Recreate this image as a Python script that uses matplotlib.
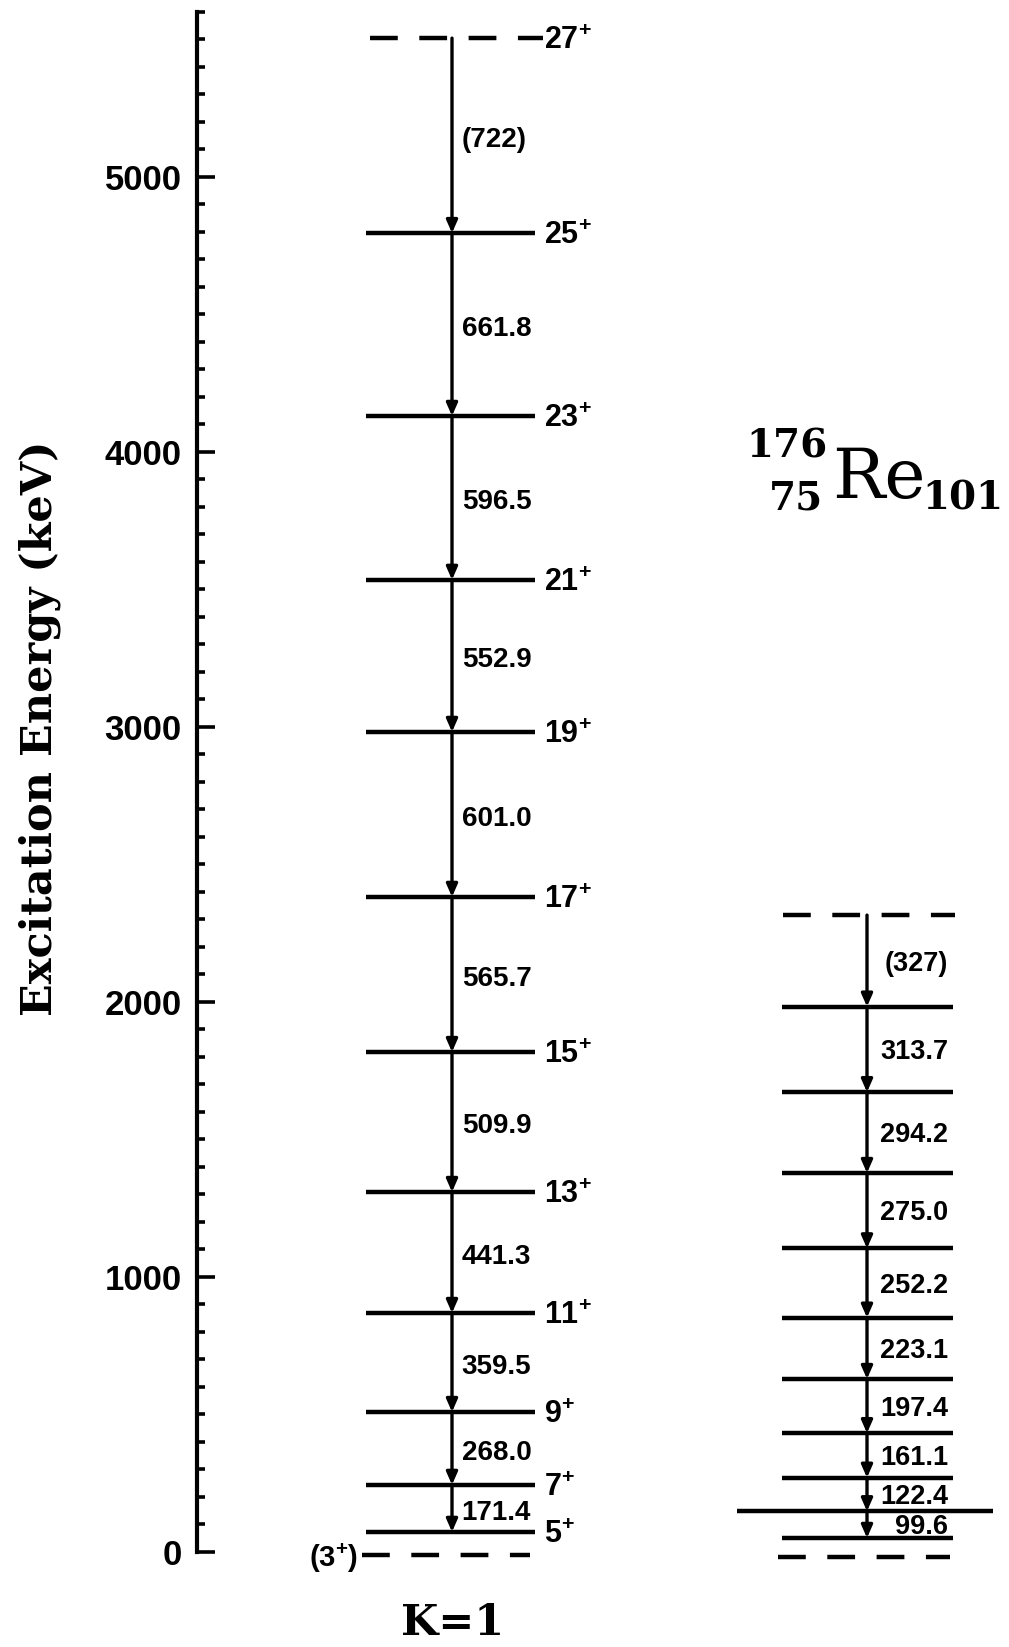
import numpy as np
import matplotlib
matplotlib.use("Agg")
import matplotlib.pyplot as plt

plt.rcParams['lines.scale_dashes'] = False
plt.rcParams['mathtext.fontset'] = 'custom'
plt.rcParams['mathtext.rm'] = 'Liberation Sans:bold'
plt.rcParams['mathtext.bf'] = 'Liberation Sans:bold'

# K=1 band (top level is tentative -> dashed)
k1_spins = ["27", "25", "23", "21", "19", "17", "15", "13", "11", "9", "7", "5"]
k1_levels = [5505, 4796, 4131, 3535, 2982, 2382, 1818, 1309, 869, 509, 244, 73]
k1_gammas = ["(722)", "661.8", "596.5", "552.9", "601.0", "565.7",
             "509.9", "441.3", "359.5", "268.0", "171.4"]
k1_head = -12          # (3+) band head, dashed
k1_head_label = "(3"

# second band of 176Re (top level tentative -> dashed)
b2_levels = [2316, 1983, 1672, 1378, 1104, 852, 629, 432, 270, 148, 51]
b2_gammas = ["(327)", "313.7", "294.2", "275.0", "252.2", "223.1",
             "197.4", "161.1", "122.4", "99.6"]
b2_bottom = -18        # dashed
b2_long_level = 148    # level drawn wider

# energy axis
major_ticks = [0, 1000, 2000, 3000, 4000, 5000]
minor_ticks = list(range(0, 5700, 100))

W, H = 1009, 1647
fig = plt.figure(figsize=(W / 100, H / 100), dpi=100)
ax = fig.add_axes([197 / W, 0, (W - 197) / W, 1])
ax.set_xlim(197, W)
ax.set_ylim(-345.5, 5643.6)

for s in ["top", "right", "bottom"]:
    ax.spines[s].set_visible(False)
ax.spines["left"].set_linewidth(3)
ax.spines["left"].set_bounds(0, 5600)
ax.set_xticks([])
ax.set_yticks(major_ticks)
ax.set_yticks(minor_ticks, minor=True)
ax.tick_params(axis="y", which="major", direction="in", length=13, width=2.6,
               pad=11, labelsize=25)
ax.tick_params(axis="y", which="minor", direction="in", length=6, width=2.6)
for lab in ax.get_yticklabels():
    lab.set_fontfamily("Liberation Sans")
    lab.set_fontweight("bold")

lev_lw = 3.2
vert_lw = 2.4
dash = (0, (20, 15.5))
arrow_style = "-|>,head_length=0.5,head_width=0.22"
head_scale = 15

# ---- K=1 band ----
x1a, x1b, xv1 = 366, 535, 452
ax.plot([370, 543], [k1_levels[0]] * 2, color="k", lw=lev_lw, linestyle=dash,
        dash_capstyle="butt")
for E in k1_levels[1:]:
    ax.plot([x1a, x1b], [E, E], color="k", lw=lev_lw, solid_capstyle="butt")
ax.plot([362, 530], [k1_head] * 2, color="k", lw=lev_lw, linestyle=dash,
        dash_capstyle="butt")

for i, g in enumerate(k1_gammas):
    top, bot = k1_levels[i], k1_levels[i + 1]
    ax.annotate("", xy=(xv1, bot), xytext=(xv1, top),
                arrowprops=dict(arrowstyle=arrow_style, lw=vert_lw, color="k",
                                shrinkA=0, shrinkB=0, mutation_scale=head_scale))
    ax.annotate(g, (xv1, (top + bot) / 2), xytext=(7, -3),
                textcoords="offset points", ha="left", va="center",
                fontsize=20, fontfamily="Liberation Sans", fontweight="bold")

for sp, E in zip(k1_spins, k1_levels):
    ax.annotate(r"$\mathbf{%s}^{\mathbf{+}}$" % sp, (544, E), xytext=(0, -2),
                textcoords="offset points", ha="left", va="center", fontsize=22)
ax.annotate(r"$\mathbf{%s}^{\mathbf{+}}\mathbf{)}$" % k1_head_label, (358, k1_head),
            xytext=(0, -2), textcoords="offset points", ha="right", va="center",
            fontsize=21)

# ---- second band ----
x2a, x2b, xv2 = 782, 953, 867
ax.plot([783, 955], [b2_levels[0]] * 2, color="k", lw=lev_lw, linestyle=dash,
        dash_capstyle="butt")
for E in b2_levels[1:]:
    if E == b2_long_level:
        ax.plot([737, 993], [E, E], color="k", lw=lev_lw, solid_capstyle="butt")
    else:
        ax.plot([x2a, x2b], [E, E], color="k", lw=lev_lw, solid_capstyle="butt")
ax.plot([778, 950], [b2_bottom] * 2, color="k", lw=lev_lw, linestyle=dash,
        dash_capstyle="butt")

for i, g in enumerate(b2_gammas):
    top, bot = b2_levels[i], b2_levels[i + 1]
    ax.annotate("", xy=(xv2, bot), xytext=(xv2, top),
                arrowprops=dict(arrowstyle=arrow_style, lw=vert_lw, color="k",
                                shrinkA=0, shrinkB=0, mutation_scale=head_scale))
    ax.annotate(g, (948, (top + bot) / 2), xytext=(0, -2),
                textcoords="offset points", ha="right", va="center",
                fontsize=19.5, fontfamily="Liberation Sans", fontweight="bold")


# ---- labels in figure pixel coordinates ----
def ftext(x, y, s, **kw):
    fig.text(x / W, 1 - y / H, s, **kw)


ftext(40, 728, "Excitation Energy (keV)", rotation=90, ha="center", va="center",
      fontsize=31, fontfamily="DejaVu Serif", fontweight="bold")
ftext(453, 1635, "K=1", ha="center", va="baseline", fontsize=31,
      fontfamily="DejaVu Serif", fontweight="bold")

ftext(828, 458, "176", ha="right", va="baseline", fontsize=28,
      fontfamily="DejaVu Serif", fontweight="bold")
ftext(823, 510, "75", ha="right", va="baseline", fontsize=28,
      fontfamily="DejaVu Serif", fontweight="bold")
ftext(832, 498, "Re", ha="left", va="baseline", fontsize=50,
      fontfamily="DejaVu Serif")
ftext(922, 510, "101", ha="left", va="baseline", fontsize=28,
      fontfamily="DejaVu Serif", fontweight="bold")

fig.savefig("out.png", dpi=100)
